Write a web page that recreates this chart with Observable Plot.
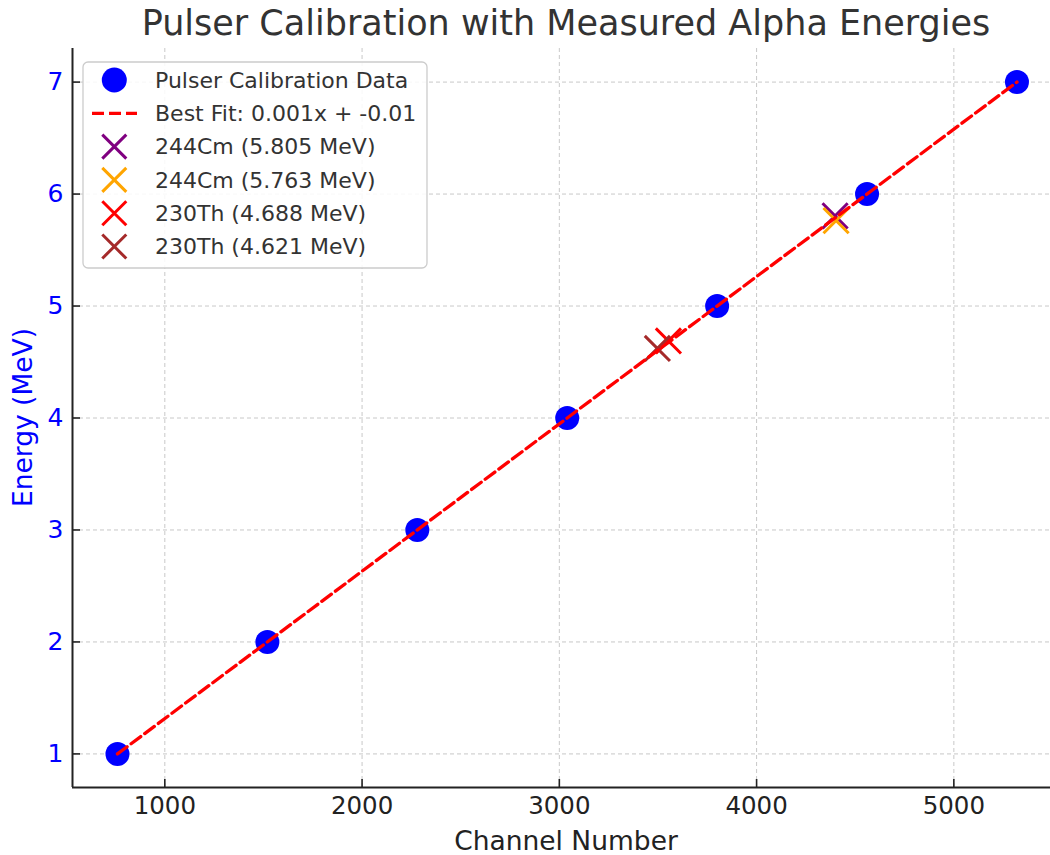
<!DOCTYPE html>
<html>
<head>
<meta charset="utf-8">
<script src="https://cdn.jsdelivr.net/npm/d3@7"></script>
<script src="https://cdn.jsdelivr.net/npm/@observablehq/plot@0.6"></script>
<style>
  html, body { margin: 0; padding: 0; background: #fff; overflow: hidden; }
  #chart { position: relative; width: 1050px; height: 855px; }
  svg { font-family: "DejaVu Sans", sans-serif; }
</style>
</head>
<body>
<div id="chart"></div>
<script>
// ---- data ----
const channels = [760, 1520, 2280, 3040, 3800, 4560, 5320];
const energies = [1, 2, 3, 4, 5, 6, 7];

const alphaLabels = ["244Cm (5.805 MeV)", "244Cm (5.763 MeV)", "230Th (4.688 MeV)", "230Th (4.621 MeV)"];
const alphaEnergies = [5.805, 5.763, 4.688, 4.621];
const alphaChannels = [4398, 4403, 3553, 3497];
const alphaColors = ["#800080", "#ffa500", "#ff0000", "#a52a2a"];

const xTicks = [1000, 2000, 3000, 4000, 5000];
const yTicks = [1, 2, 3, 4, 5, 6, 7];

const titleText = "Pulser Calibration with Measured Alpha Energies";
const xLabel = "Channel Number";
const yLabel = "Energy (MeV)";
const dataLabel = "Pulser Calibration Data";
const fitLabel = "Best Fit: 0.001x + -0.01";

// ---- derived tables ----
const pulser = channels.map((c, i) => ({channel: c, energy: energies[i]}));
const alphas = alphaChannels.map((c, i) => ({channel: c, energy: alphaEnergies[i], label: alphaLabels[i], color: alphaColors[i]}));

// least-squares fit from data
const mx = d3.mean(channels), my = d3.mean(energies);
const slope = d3.sum(channels, (c, i) => (c - mx) * (energies[i] - my)) / d3.sum(channels, c => (c - mx) ** 2);
const intercept = my - slope * mx;
const fitLine = [d3.min(channels), d3.max(channels)].map(c => ({channel: c, energy: slope * c + intercept}));

const W = 1050, H = 855, ML = 72, MT = 48, MB = 68;
const xDomain = [532, 5490];
const yDomain = [0.7, 7.3];

const plot = Plot.plot({
  width: W,
  height: H,
  marginLeft: ML,
  marginRight: 0,
  marginTop: MT,
  marginBottom: MB,
  style: {fontFamily: "DejaVu Sans, sans-serif", background: "white", overflow: "visible"},
  x: {domain: xDomain},
  y: {domain: yDomain},
  marks: [
    Plot.gridX(xTicks, {stroke: "#b0b0b0", strokeOpacity: 0.7, strokeDasharray: "4,3", strokeWidth: 1}),
    Plot.gridY(yTicks, {stroke: "#b0b0b0", strokeOpacity: 0.7, strokeDasharray: "4,3", strokeWidth: 1}),
    Plot.axisX(xTicks, {tickSize: -8, tickPadding: 17, fontSize: 24.5, fill: "#222", stroke: "#222", strokeWidth: 1.6, label: null, tickFormat: d => String(d)}),
    Plot.axisY(yTicks, {tickSize: -8, tickPadding: 17, fontSize: 25, fill: "blue", stroke: "#222", strokeWidth: 1.6, label: null, tickFormat: d => String(d)}),
    Plot.ruleX([xDomain[0]], {stroke: "#222", strokeWidth: 2}),
    Plot.ruleY([yDomain[0]], {stroke: "#222", strokeWidth: 2}),
    Plot.dot(pulser, {x: "channel", y: "energy", r: 12, fill: "blue", stroke: "none"}),
    Plot.dot(alphas, {x: "channel", y: "energy", symbol: "times", r: 11.5, stroke: d => d.color, strokeWidth: 3}),
    Plot.line(fitLine, {x: "channel", y: "energy", stroke: "red", strokeWidth: 3.3, strokeDasharray: "12,5"})
  ]
});

document.getElementById("chart").appendChild(plot);

const svg = d3.select(plot);
// title
svg.append("text").attr("x", 566).attr("y", 35).attr("text-anchor", "middle")
  .attr("font-size", 35).attr("fill", "#333").text(titleText);
// axis labels
svg.append("text").attr("x", 566).attr("y", 850).attr("text-anchor", "middle")
  .attr("font-size", 26.5).attr("fill", "#222").text(xLabel);
svg.append("text").attr("transform", "translate(32,417.5) rotate(-90)").attr("text-anchor", "middle")
  .attr("font-size", 26.5).attr("fill", "blue").text(yLabel);

// legend
const lg = svg.append("g").attr("text-anchor", "start");
lg.append("rect").attr("x", 83).attr("y", 62).attr("width", 344).attr("height", 206).attr("rx", 5)
  .attr("fill", "white").attr("fill-opacity", 0.85).attr("stroke", "#cccccc").attr("stroke-width", 1.3);
const rowY = i => 80 + 33.3 * i;
const mxc = 114.3, tx = 155, fs = 22;
lg.append("circle").attr("cx", mxc).attr("cy", rowY(0)).attr("r", 12.5).attr("fill", "blue");
lg.append("text").attr("x", tx).attr("y", rowY(0)).attr("dy", "0.35em").attr("text-anchor", "start").attr("font-size", fs).attr("fill", "#333").text(dataLabel);
lg.append("line").attr("x1", 92).attr("x2", 137).attr("y1", rowY(1)).attr("y2", rowY(1))
  .attr("stroke", "red").attr("stroke-width", 3.3).attr("stroke-dasharray", "12,5");
lg.append("text").attr("x", tx).attr("y", rowY(1)).attr("dy", "0.35em").attr("text-anchor", "start").attr("font-size", fs).attr("fill", "#333").text(fitLabel);
alphas.forEach((a, i) => {
  const y = rowY(i + 2), s = 12;
  lg.append("path").attr("d", `M${mxc - s},${y - s}L${mxc + s},${y + s}M${mxc - s},${y + s}L${mxc + s},${y - s}`)
    .attr("stroke", a.color).attr("stroke-width", 3).attr("fill", "none");
  lg.append("text").attr("x", tx).attr("y", y).attr("dy", "0.35em").attr("text-anchor", "start").attr("font-size", fs).attr("fill", "#333").text(a.label);
});
</script>
</body>
</html>
